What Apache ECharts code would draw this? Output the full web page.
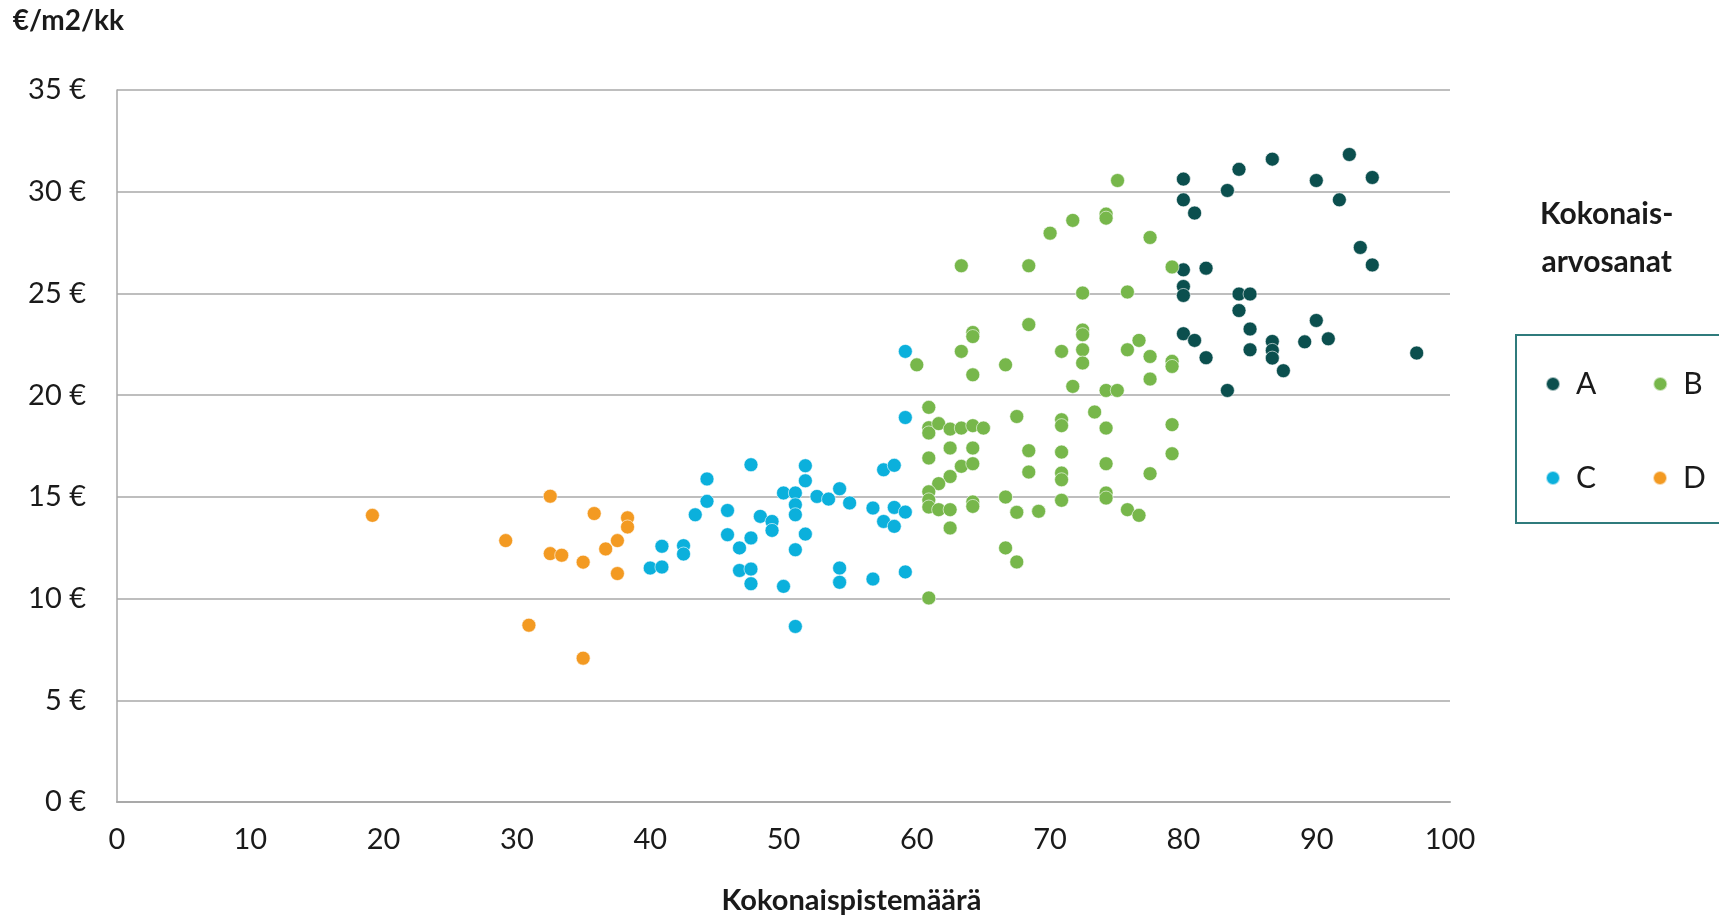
<!DOCTYPE html>
<html>
<head>
<meta charset="utf-8">
<script src="https://cdn.jsdelivr.net/npm/echarts@6/dist/echarts.min.js"></script>
<style>
html,body{margin:0;padding:0;background:#fff;}
#chart{width:1719px;height:919px;}
</style>
</head>
<body>
<div id="chart"></div>
<script>
// Kokonaispistemäärä (x) vs €/m2/kk (y), grouped by overall grade
const gradeA = [
  [80,30.62],[80,29.6],[80.84,28.95],[83.3,30.06],[84.17,31.1],[86.67,31.6],[89.97,30.55],
  [91.7,29.6],[92.45,31.83],[94.17,30.7],[93.27,27.26],[94.17,26.4],[80,26.16],[81.7,26.24],
  [80,25.34],[80,24.9],[84.17,24.97],[85,24.97],[84.17,24.16],[85,23.25],[89.97,23.67],
  [80,23.02],[80.84,22.69],[81.7,21.84],[85,22.23],[86.67,22.64],[86.67,22.2],[86.67,21.82],
  [87.5,21.2],[89.1,22.62],[90.87,22.77],[97.5,22.07],[83.3,20.23]
];
const gradeB = [
  [75.06,30.55],[70,27.96],[71.7,28.59],[74.2,28.9],[74.2,28.7],[77.5,27.75],[63.34,26.36],
  [68.4,26.36],[79.15,26.3],[72.44,25.02],[75.8,25.07],[68.4,23.47],[64.2,23.08],[64.2,22.88],
  [72.44,23.2],[72.44,22.97],[63.34,22.15],[70.86,22.15],[72.44,22.23],[72.44,21.58],[75.8,22.23],
  [76.67,22.69],[77.5,21.9],[79.15,21.66],[79.15,21.41],[60,21.49],[66.66,21.49],[64.2,21.0],
  [71.7,20.43],[74.2,20.23],[75.04,20.23],[77.5,20.79],
  [60.9,19.4],[67.5,18.95],[73.34,19.17],[60.9,18.4],[60.9,18.14],[61.64,18.6],[62.5,18.33],
  [63.34,18.38],[64.2,18.5],[65,18.38],[70.86,18.79],[70.86,18.5],[74.2,18.38],[79.15,18.55],
  [62.5,17.4],[64.2,17.4],[68.4,17.27],[70.86,17.2],[79.15,17.12],[60.9,16.91],[63.34,16.5],
  [64.2,16.63],[74.2,16.63],[68.4,16.22],[70.86,16.17],[70.86,15.84],[77.5,16.14],[62.5,16.0],
  [61.64,15.65],[60.9,15.25],[60.9,14.85],[60.9,14.5],[61.64,14.37],[62.5,14.37],[64.2,14.75],
  [64.2,14.53],[66.66,14.99],[67.5,14.24],[69.14,14.29],[70.86,14.83],[74.2,15.19],[74.2,14.94],
  [75.8,14.37],[76.67,14.09],[62.5,13.47],[66.66,12.49],[67.5,11.8],[60.9,10.03]
];
const gradeC = [
  [59.14,22.15],[59.14,18.9],[47.56,16.58],[51.64,16.53],[51.64,15.79],[44.26,15.88],
  [57.51,16.33],[58.31,16.55],[50,15.19],[50.89,15.19],[52.51,15.02],[53.38,14.89],[54.21,15.4],
  [44.26,14.78],[50.89,14.61],[50.89,14.12],[54.96,14.7],[56.71,14.45],[58.31,14.48],[59.14,14.25],
  [43.38,14.12],[45.8,14.33],[48.26,14.04],[49.14,13.79],[49.14,13.35],[57.51,13.79],[58.31,13.55],
  [45.8,13.14],[47.56,12.98],[51.64,13.17],[46.7,12.49],[50.89,12.4],[40.88,12.57],[42.5,12.6],
  [42.5,12.19],[40,11.5],[40.88,11.55],[46.7,11.38],[47.56,11.45],[47.56,10.73],[50,10.6],
  [54.21,11.5],[54.21,10.8],[56.71,10.96],[59.14,11.31],[50.89,8.63]
];
const gradeD = [
  [19.16,14.09],[32.5,15.03],[35.8,14.18],[38.3,13.97],[38.3,13.52],[29.16,12.85],[32.5,12.21],
  [33.36,12.13],[34.97,11.79],[36.66,12.44],[37.54,12.85],[37.54,11.23],[30.9,8.69],[34.97,7.07]
];
const gradeNames = ['A','B','C','D'];
const gradeColors = ['#0B4F4E','#77B74B','#0BB0DC','#F39A22'];
const yTicks = {min:0, max:35, interval:5};
const xTicks = {min:0, max:100, interval:10};

const FONT = 'Lato, "Open Sans", sans-serif';
const chart = echarts.init(document.getElementById('chart'));
const seriesData = [gradeA, gradeB, gradeC, gradeD];

chart.setOption({
  backgroundColor:'#ffffff',
  animation:false,
  textStyle:{fontFamily:FONT},
  grid:{left:117, top:90, right:269, bottom:117, containLabel:false, outerBoundsMode:'none'},
  xAxis:{
    type:'value', min:xTicks.min, max:xTicks.max, interval:xTicks.interval,
    name:'Kokonaispistemäärä', nameLocation:'middle', nameGap:84,
    nameTextStyle:{fontSize:29, fontWeight:'bold', color:'#1a1a1a', fontFamily:FONT, padding:[0,0,0,136]},
    axisLine:{show:true, lineStyle:{color:'#A9A9A9', width:2}},
    axisTick:{show:false},
    splitLine:{show:false},
    axisLabel:{fontSize:29, color:'#1a1a1a', margin:23, fontFamily:FONT}
  },
  yAxis:{
    type:'value', min:yTicks.min, max:yTicks.max, interval:yTicks.interval,
    name:'€/m2/kk', nameLocation:'end', nameGap:69,
    nameTextStyle:{fontSize:28, fontWeight:'bold', color:'#1a1a1a', align:'right', verticalAlign:'middle', padding:[0,-7,0,0], fontFamily:FONT},
    axisLine:{show:true, lineStyle:{color:'#A9A9A9', width:1.5}},
    axisTick:{show:false},
    splitLine:{show:true, lineStyle:{color:'#A9A9A9', width:1.5}},
    axisLabel:{fontSize:29, color:'#1a1a1a', margin:31, fontFamily:FONT, formatter:'{value} €'}
  },
  legend:[
    {data:['A','B'], left:1545, top:369, orient:'horizontal', padding:0, itemGap:56,
     icon:'circle', itemWidth:14, itemHeight:14,
     textStyle:{fontSize:30, color:'#1a1a1a', fontFamily:FONT, padding:[0,0,0,11]}},
    {data:['C','D'], left:1545, top:463, orient:'horizontal', padding:0, itemGap:56,
     icon:'circle', itemWidth:14, itemHeight:14,
     textStyle:{fontSize:30, color:'#1a1a1a', fontFamily:FONT, padding:[0,0,0,11]}}
  ],
  graphic:[
    {type:'text', left:1540, top:190, z:10,
     style:{text:'Kokonais-\narvosanat', fontSize:30, fontWeight:'bold', fill:'#1a1a1a', fontFamily:FONT, lineHeight:48, textAlign:'center', x:71}},
    {type:'rect', shape:{x:1516, y:335, width:260, height:188},
     style:{fill:'none', stroke:'#2F7B7C', lineWidth:2}, z:1}
  ],
  series: seriesData.map((d,i)=>({
    name:gradeNames[i], type:'scatter', data:d, symbol:'circle', symbolSize:14,
    itemStyle:{color:gradeColors[i], borderColor:'rgba(255,255,255,0.6)', borderWidth:1, opacity:1}
  }))
});
</script>
</body>
</html>
